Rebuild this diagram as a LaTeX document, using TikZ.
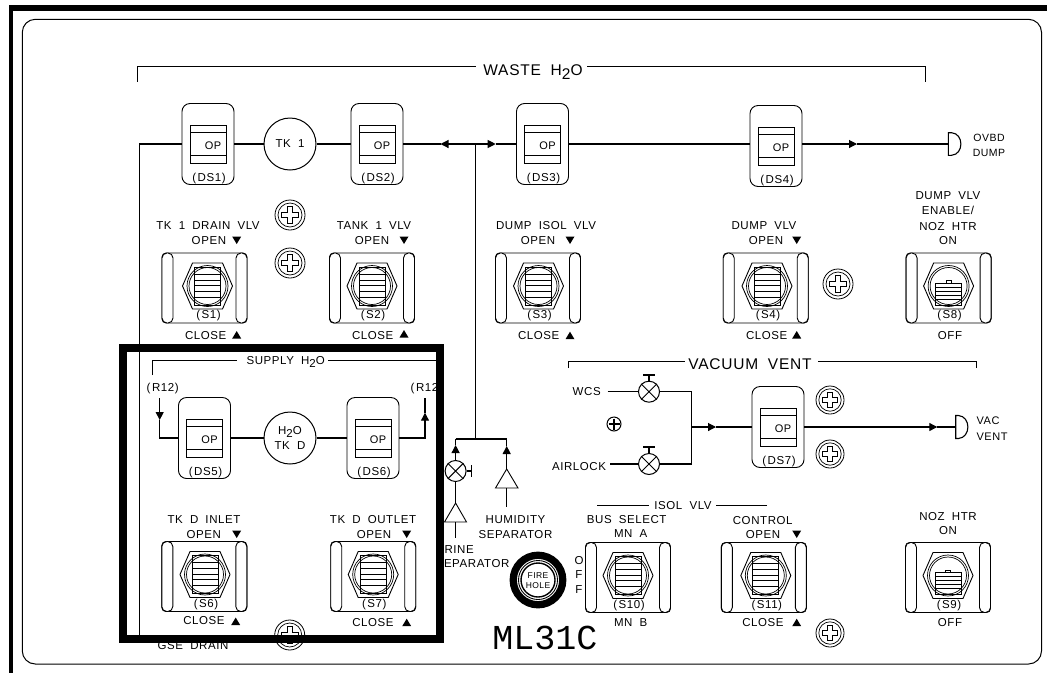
\documentclass[tikz,border=0pt]{standalone}
\usepackage{fontspec}
\setmainfont{Liberation Sans}[LetterSpace=5,WordSpace=1.9]
\newfontfamily\mlfont{Liberation Mono}
\usetikzlibrary{arrows.meta,calc}
\tikzset{
  x=1pt,y=-1pt,
  pipe/.style={line width=1.1pt,line join=miter},
  thin line/.style={line width=0.9pt},
  flow/.style={pipe,-{Triangle[length=8pt,width=8pt]}},
  lbl/.style={inner sep=0pt,outer sep=0pt,font=\fontsize{11.5}{12}\selectfont,text height=8pt,text depth=0pt,align=center},
  biglbl/.style={lbl,font=\fontsize{15.5}{18}\selectfont,text height=12pt},
  dsbody/.style={draw,line width=0.9pt,rounded corners=8pt,minimum width=52pt,minimum height=81pt,inner sep=0pt},
  tank/.style={draw,circle,line width=1pt,minimum size=52pt,inner sep=0pt,align=center,font=\fontsize{11.5}{15}\selectfont},
  swbody/.style={draw,line width=0.9pt,rounded corners=4pt,minimum width=85pt,minimum height=70pt,inner sep=0pt},
  valve/.style={draw,circle,line width=1pt,minimum size=21pt,inner sep=0pt},
  screwbody/.style={draw,circle,line width=0.8pt,inner sep=0pt},
}
% annunciator: name, x, y, label
\newcommand\annun[4]{%
  \node[dsbody] (#1) at (#2,#3) {};
  \draw[thin line] (#2-18,#3-18.5) rectangle (#2+18,#3+19);
  \draw[thin line] (#2-18,#3-11.5) -- (#2+18,#3-11.5);
  \draw[thin line] (#2-18,#3+11) -- (#2+18,#3+11);
  \node[lbl,font=\fontsize{11}{11}\selectfont] (#1op) at (#2+5,#3+1) {OP};
  \node[lbl] (#1t) at (#2+1,#3+33.5) {(\kern1.5pt#4)};
}
% switch body: name, x, y, hexdx, label
\newcommand\swbase[5]{%
  \node[swbody] (#1) at (#2,#3) {};
  \draw[thin line,rounded corners=5pt,fill=white] (#2-42.5,#3-35) rectangle (#2-31.5,#3+35);
  \draw[thin line,rounded corners=5pt,fill=white] (#2+31.5,#3-35) rectangle (#2+42.5,#3+35);
  \begin{scope}[shift={(#2+#4,#3-2)}]
    \draw[thin line] (-25,0) -- (-15,-23) -- (15,-23) -- (25,0) -- (15,23) -- (-15,23) -- cycle;
    \draw[line width=0.7pt] (0,0) circle[radius=20.5pt];
    \draw[line width=0.7pt] (0,0) circle[radius=18.5pt];
  \end{scope}
  \node[lbl,fill=white,inner xsep=1pt] (#1t) at (#2+#4+1,#3+26.5) {(\kern1.5pt#5)};
}
% toggle with long lever
\newcommand\sw[5]{%
  \swbase{#1}{#2}{#3}{#4}{#5}
  \begin{scope}[shift={(#2+#4,#3-2)}]
    \draw[thin line] (-13,-19) rectangle (13,19);
    \foreach \yy in {-12,-6,-0.5,5,11}{\draw[thin line] (-13,\yy) -- (13,\yy);}
  \end{scope}
}
% toggle with short lever
\newcommand\swbat[5]{%
  \swbase{#1}{#2}{#3}{#4}{#5}
  \begin{scope}[shift={(#2+#4,#3-2)}]
    \draw[thin line] (-13,-3) rectangle (13,19);
    \draw[thin line] (-2.5,-3) -- (-2.5,-5.5) -- (2.5,-5.5) -- (2.5,-3);
    \foreach \yy in {1,5,9,13}{\draw[thin line] (-13,\yy) -- (13,\yy);}
  \end{scope}
}
% screw: name, x, y, radius
\newcommand\screw[4]{%
  \node[screwbody,minimum size=#4*2pt] (#1) at (#2,#3) {};
  \begin{scope}[shift={(#2,#3)},scale=#4]
    \draw[line width=0.7pt] (0,0) circle[radius=0.8pt];
    \draw[line width=0.8pt] (-0.18,-0.55) -- (0.18,-0.55) -- (0.18,-0.18) -- (0.55,-0.18) -- (0.55,0.18) -- (0.18,0.18) -- (0.18,0.55) -- (-0.18,0.55) -- (-0.18,0.18) -- (-0.55,0.18) -- (-0.55,-0.18) -- (-0.18,-0.18) -- cycle;
  \end{scope}
}
\newcommand\tridn[2]{\fill (#1-4.5,#2-3.5) -- (#1+4.5,#2-3.5) -- (#1,#2+4) -- cycle;}
\newcommand\triup[2]{\fill (#1-4.5,#2+3.5) -- (#1+4.5,#2+3.5) -- (#1,#2-4) -- cycle;}
\newcommand\subtwo{\raisebox{-0.3em}{2}}
\begin{document}
\begin{tikzpicture}
\useasboundingbox (0,0) rectangle (1047,673);
\fill[white] (0,0) rectangle (1047,673);
% outer frame
\fill (8.7,5) rectangle (1047,10.5);
\fill (8.7,5) rectangle (13,673);
\draw[line width=1pt,rounded corners=13pt] (22.3,19.3) rectangle (1041.5,664);

% brackets and titles
\node[biglbl] (waste) at (533,69) {WASTE H\subtwo O};
\coordinate (wl) at (137.3,81.7); \coordinate (wr) at (925,81.7);
\coordinate (wa) at (476,66.7); \coordinate (wb) at (586.7,66.7);
\draw[thin line] (wl) |- (wa);
\draw[thin line] (wr) |- (wb);

% annunciators and tanks
\annun{ds1}{208}{144}{DS1}
\annun{ds2}{377}{144}{DS2}
\annun{ds3}{542.5}{144}{DS3}
\annun{ds4}{776}{146}{DS4}
\annun{ds5}{204.5}{438}{DS5}
\annun{ds6}{373}{438}{DS6}
\annun{ds7}{778}{427}{DS7}
\node[tank] (tk1) at (290,144) {TK 1};
\node[tank] (tkd) at (290,438) {H\raisebox{-0.3em}{2}O\\TK D};

% waste water lines
\coordinate (gse) at (139.3,635);
\coordinate (jw) at (475.7,144);
\coordinate (tipl) at (440.5,144);
\coordinate (tipr) at (495.7,144);
\coordinate (jb) at (475.7,439);
\coordinate (jl) at (455.6,439);
\coordinate (jr) at (506.7,439);
\draw[pipe] (ds1.west) -| (gse);
\draw[pipe] (ds1.east) -- (tk1.west);
\draw[pipe] (tk1.east) -- (ds2.west);
\draw[pipe] (ds2.east) -- (tipl);
\draw[flow] (jw) -- (tipl);
\draw[flow] (jw) -- (tipr);
\draw[pipe] (tipr) -- (ds3.west);
\draw[pipe] (jw) -- (jb);
\draw[pipe] (jl) -- (jr);
\draw[pipe] (ds3.east) -- (ds3.east -| ds4.west);
\coordinate (tipd) at (857,144);
\draw[flow] (ds3.east -| ds4.east) -- (tipd);
\coordinate (ovbd) at (948.3,144);
\draw[pipe] (tipd) -- (ovbd);
\draw[pipe] (948.3,132.7) -- (951.5,132.7) .. controls (964,133.5) and (964,154.5) .. (951.5,155.3) -- (948.3,155.3) -- cycle;
\node[lbl,font=\fontsize{10.5}{10.5}\selectfont] (ov1) at (989,137.7) {OVBD};
\node[lbl,font=\fontsize{10.5}{10.5}\selectfont] (ov2) at (989,152) {DUMP};

% urine branch
\coordinate (tipu) at (455.6,445);
\coordinate (tiph) at (506.7,446);
\node[valve] (vu) at (455.6,471) {};
\draw[line width=0.9pt] (vu.north west) -- (vu.south east) (vu.north east) -- (vu.south west);
\draw[flow] (vu.north) -- (tipu);
\draw[pipe] (tipu) -- (jl);
\coordinate (vus) at (471.6,471);
\draw[pipe] (vu.east) -- (vus);
\draw[pipe] (471.6,465) -- (471.6,477);
\coordinate (ua) at (455.6,503);
\coordinate (ue) at (455.6,538);
\draw[pipe] (vu.south) -- (ua);
\draw[line width=0.9pt] (ua) -- (466.5,522) -- (444.5,522) -- cycle;
\draw[pipe] (455.6,522) -- (ue);
% humidity branch
\coordinate (ha) at (506.7,469);
\coordinate (he) at (506.7,507);
\draw[flow] (ha) -- (tiph);
\draw[pipe] (tiph) -- (jr);
\draw[line width=0.9pt] (ha) -- (518,488) -- (495.5,488) -- cycle;
\draw[pipe] (506.7,488) -- (he);
\node[lbl] (hum) at (515.5,519) {HUMIDITY};
\node[lbl] (sep) at (515.5,534) {SEPARATOR};
\node[lbl,anchor=west] (ur1) at (444.5,549) {RINE};
\node[lbl,anchor=west] (ur2) at (444,563) {EPARATOR};

% vacuum vent
\node[biglbl] (vac) at (750,363) {VACUUM VENT};
\coordinate (vl) at (568,368); \coordinate (vr) at (976.7,368);
\coordinate (va) at (685,361); \coordinate (vb) at (818,361);
\draw[thin line] (vl) |- (va);
\draw[thin line] (vr) |- (vb);
\node[lbl] (wcs) at (586.7,391) {WCS};
\node[lbl] (air) at (579,466) {AIRLOCK};
\node[valve] (v1) at (649,391.7) {};
\node[valve] (v2) at (649,464) {};
\draw[line width=0.9pt] (v1.north west) -- (v1.south east) (v1.north east) -- (v1.south west);
\draw[line width=0.9pt] (v2.north west) -- (v2.south east) (v2.north east) -- (v2.south west);
\coordinate (s1) at (649,375); \coordinate (s2) at (649,447);
\draw[pipe] (v1.north) -- (s1); \draw[pipe] (643,375) -- (655,375);
\draw[pipe] (v2.north) -- (s2); \draw[pipe] (643,447) -- (655,447);
\coordinate (jv) at (691.7,427);
\coordinate (tipv) at (716,427);
\coordinate (tipe) at (937.3,427);
\coordinate (vent) at (955.7,427);
\coordinate (wcsl) at (607.7,391.7);
\coordinate (airl) at (610,464);
\draw[pipe] (wcsl) -- (v1.west);
\draw[pipe] (airl) -- (v2.west);
\draw[pipe] (v1.east) -| (v2.east -| jv) -- (v2.east);
\draw[flow] (jv) -- (tipv);
\draw[pipe] (tipv) -- (ds7.west);
\draw[flow] (ds7.east) -- (tipe);
\draw[pipe] (tipe) -- (vent);
\draw[pipe] (955.7,415.5) -- (958.5,415.5) .. controls (971,416.5) and (971,437.5) .. (958.5,438.5) -- (955.7,438.5) -- cycle;
\node[lbl,font=\fontsize{11}{11}\selectfont] (vv1) at (988,420.7) {VAC};
\node[lbl,font=\fontsize{11}{11}\selectfont] (vv2) at (992,436) {VENT};

% toggles
\sw{s1w}{204.5}{288}{3}{S1}
\sw{s2w}{372}{288}{0}{S2}
\sw{s3w}{538}{288}{0.5}{S3}
\sw{s4w}{765.7}{288}{1.3}{S4}
\swbat{s8w}{948.6}{288}{0}{S8}
\sw{s6w}{204.3}{576.5}{0.7}{S6}
\sw{s7w}{373.2}{576.5}{0}{S7}
\sw{s10w}{628}{577.5}{0}{S10}
\sw{s11w}{763.8}{577.5}{2}{S11}
\swbat{s9w}{948}{577.5}{0}{S9}

% switch labels, upper row
\node[lbl] (l1) at (208,225) {TK 1 DRAIN VLV};
\node[lbl] (l2) at (208.9,240) {OPEN}; \tridn{236.7}{240}
\node[lbl] (l3) at (205.7,335) {CLOSE}; \triup{236.7}{335}
\node[lbl] (l4) at (374,225) {TANK 1 VLV};
\node[lbl] (l5) at (372,240) {OPEN}; \tridn{404}{240}
\node[lbl] (l6) at (372.7,335) {CLOSE}; \triup{404}{334}
\node[lbl] (l7) at (546,225.3) {DUMP ISOL VLV};
\node[lbl] (l8) at (538,240) {OPEN}; \tridn{570}{240}
\node[lbl] (l9) at (538.7,335.7) {CLOSE}; \triup{570}{335.7}
\node[lbl] (l10) at (764,225.7) {DUMP VLV};
\node[lbl] (l11) at (766,240) {OPEN}; \tridn{796.7}{240}
\node[lbl] (l12) at (766.7,335) {CLOSE}; \triup{796.7}{335}
\node[lbl] (l13) at (948,195) {DUMP VLV};
\node[lbl] (l14) at (948,210) {ENABLE/};
\node[lbl] (l15) at (948,226) {NOZ HTR};
\node[lbl] (l16) at (948,240) {ON};
\node[lbl] (l17) at (950,335) {OFF};
% lower row
\node[lbl] (m1) at (204,519) {TK D INLET};
\node[lbl] (m2) at (203.7,534) {OPEN}; \tridn{236.7}{534}
\node[lbl] (m3) at (204,620.7) {CLOSE}; \triup{235.7}{621.5}
\node[lbl] (m4) at (373,519) {TK D OUTLET};
\node[lbl] (m5) at (374,534) {OPEN}; \tridn{406.7}{534}
\node[lbl] (m6) at (373,622.7) {CLOSE}; \triup{406.7}{622.7}
\node[lbl] (n1) at (626.7,519.7) {BUS SELECT};
\node[lbl] (n2) at (630.7,533.7) {MN A};
\node[lbl] (n3) at (630.7,622.7) {MN B};
\node[lbl] (n4) at (579,560) {O};
\node[lbl] (n5) at (579,574) {F};
\node[lbl] (n6) at (579,589) {F};
\node[lbl] (n7) at (762.7,520) {CONTROL};
\node[lbl] (n8) at (763,534) {OPEN}; \tridn{796.7}{534}
\node[lbl] (n9) at (763,622.7) {CLOSE}; \triup{796.7}{622.7}
\node[lbl] (n10) at (948,516) {NOZ HTR};
\node[lbl] (n11) at (948,530.7) {ON};
\node[lbl] (n12) at (950,622.7) {OFF};
\node[lbl] (isol) at (683,505) {ISOL VLV};
\coordinate (il) at (597,505); \coordinate (ir) at (767,505);
\draw[thin line] (il) -- ($(isol.west)+(-5,0)$);
\draw[thin line] (ir) -- ($(isol.east)+(4,0)$);

% supply
\node[lbl] (sup) at (285.7,360.3) {SUPPLY H\subtwo O};
\coordinate (sl) at (152.7,375); \coordinate (sr) at (436,360.7);
\coordinate (sa) at (236.7,360.7); \coordinate (sb) at (328,360.7);
\draw[thin line] (sl) |- (sa);
\draw[thin line] (sb) -- (sr);
\node[lbl] (r1) at (162.7,387) {(\kern1.5pt R12)};
\node[lbl,anchor=west] (r2) at (410.7,387) {(\kern1.5pt R12};
\coordinate (a1t) at (159.7,398); \coordinate (a1a) at (159.7,420);
\coordinate (a2t) at (425,398); \coordinate (a2a) at (425,412.7);
\draw[flow] (a1t) -- (a1a);
\draw[pipe] (a1a) |- (ds5.west);
\draw[pipe] (ds5.east) -- (tkd.west);
\draw[pipe] (tkd.east) -- (ds6.west);
\draw[flow] (ds6.east) -| (a2a);
\draw[pipe] (a2a) -- (a2t);

% screws
\screw{sc1}{290}{215}{15}
\screw{sc2}{290}{263}{15}
\screw{sc3}{838}{284}{15}
\screw{sc4}{830}{400}{14}
\screw{sc5}{830}{454}{14}
\screw{sc6}{830}{633}{14}
\node[screwbody,minimum size=14pt,line width=1pt] (sc7) at (614,424) {};
\draw[line width=1.4pt] (608.5,424) -- (619.5,424) (614,418.5) -- (614,429.5);
\screw{sc8}{289.7}{635}{15}

% fire hole
\node[circle,draw,line width=7.3pt,minimum size=49.5pt,inner sep=0pt] (fh) at (538,580) {};
\draw[line width=0.9pt] (538,580) circle[radius=19.5pt];
\draw[line width=1.4pt] (538,580) circle[radius=17pt];
\node[lbl,font=\fontsize{8.5}{9}\selectfont,text height=6pt] (fh1) at (538,575.7) {FIRE};
\node[lbl,font=\fontsize{8.5}{9}\selectfont,text height=6pt] (fh2) at (538,585.7) {HOLE};
\node[lbl,font=\mlfont\fontsize{35}{35}\selectfont,text height=23pt] (ml) at (545,638) {ML31C};
\node[lbl] (gsed) at (193,645) {GSE DRAIN};

% heavy box
\draw[line width=8pt] (123,348) rectangle (440,639);
\end{tikzpicture}
\end{document}
